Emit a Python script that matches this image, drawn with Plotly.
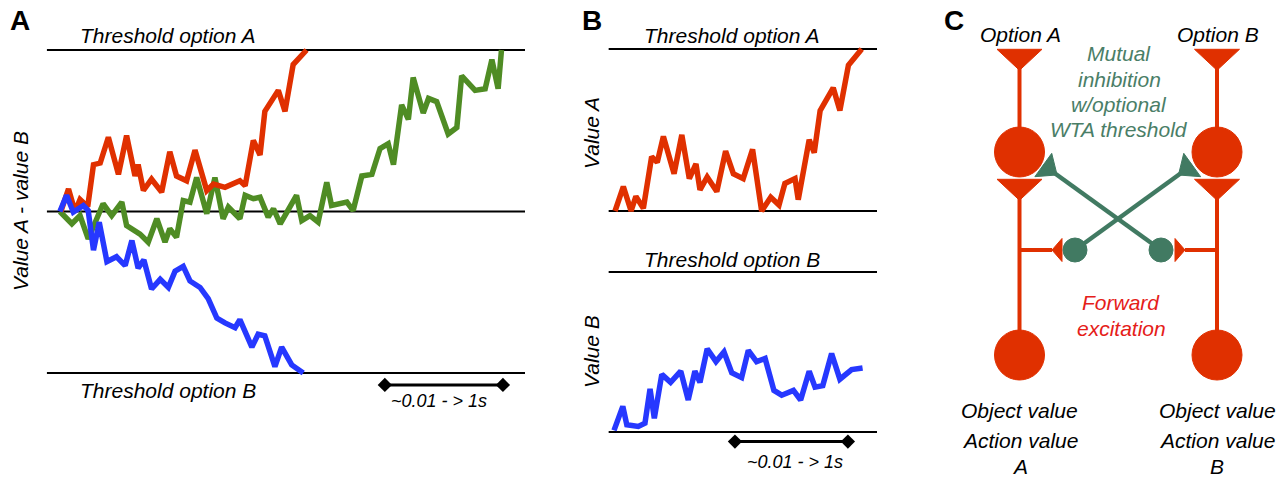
import math
import plotly.graph_objects as go

W, H = 1284, 479

# ---------------- data ----------------
# Panel A: value A - value B over time (time in arbitrary units 0..100)
A_RED_T = [3.3, 4.9, 6.25, 7.3, 8.9, 10.1, 11.5, 13.2, 15.3, 17.0, 18.75, 19.4, 20.5, 22.2, 24.3, 26.0,
           27.4, 29.5, 31.25, 33.7, 35.1, 37.5, 40.6, 41.7, 43.4, 44.8, 45.8, 48.6, 50.0, 51.7, 54.5]
A_RED_V = [0.0, 0.14, 0.0, 0.075, 0.03, 0.29, 0.30, 0.46, 0.23, 0.47, 0.22, 0.29, 0.13, 0.20, 0.12, 0.37,
           0.22, 0.19, 0.38, 0.13, 0.17, 0.15, 0.19, 0.16, 0.44, 0.35, 0.62, 0.75, 0.62, 0.91, 1.0]

A_GREEN_T = [3.1, 5.6, 7.3, 9.0, 12.1, 13.9, 16.0, 17.0, 19.8, 21.5, 23.3, 25.0, 26.0, 27.4, 28.8, 30.2,
             31.6, 33.7, 35.4, 37.1, 38.2, 40.6, 41.7, 43.4, 44.8, 46.5, 47.6, 49.0, 52.4, 53.5, 55.2,
             56.9, 58.7, 59.7, 62.9, 64.2, 66.0, 68.1, 69.8, 71.5, 72.6, 74.3, 75.7, 76.7, 78.8, 79.9,
             81.6, 84.0, 85.8, 86.8, 89.6, 91.7, 93.1, 94.4, 95.1]
A_GREEN_V = [0.0, -0.076, -0.025, -0.17, 0.048, -0.025, 0.058, -0.087, -0.14, -0.19, -0.045, -0.19, -0.107,
             -0.16, 0.068, 0.058, 0.21, -0.014, 0.21, -0.045, 0.027, -0.045, 0.10, 0.079, 0.089, -0.035,
             0.017, -0.076, 0.10, -0.056, -0.025, -0.066, 0.18, 0.037, 0.058, 0.006, 0.22, 0.23, 0.39,
             0.42, 0.29, 0.66, 0.57, 0.83, 0.61, 0.70, 0.68, 0.48, 0.52, 0.84, 0.75, 0.76, 0.94, 0.76, 1.0]

A_BLUE_T = [3.1, 4.5, 5.9, 8.0, 9.0, 10.1, 11.3, 12.9, 14.9, 16.7, 18.1, 19.4, 20.6, 22.2, 24.0, 25.7,
            27.1, 28.8, 30.2, 32.3, 34.0, 35.8, 37.5, 39.6, 40.6, 43.1, 44.4, 45.8, 47.9, 49.3, 51.4, 53.8]
A_BLUE_V = [0.0, 0.10, -0.004, 0.037, 0.006, -0.24, -0.066, -0.31, -0.28, -0.335, -0.18, -0.35, -0.30,
            -0.48, -0.42, -0.47, -0.37, -0.34, -0.43, -0.47, -0.54, -0.66, -0.69, -0.72, -0.67, -0.84,
            -0.76, -0.77, -0.96, -0.84, -0.95, -1.0]

# Panel B: separate value accumulators
B_RED_T = [1.9, 5.0, 7.9, 9.7, 12.5, 15.6, 17.7, 20.0, 24.0, 26.9, 29.7, 32.2, 33.7, 36.4, 40.0, 43.3,
           46.2, 49.9, 53.4, 56.8, 60.2, 63.3, 65.5, 69.3, 70.5, 74.6, 76.5, 78.7, 83.6, 86.1, 89.3, 94.3]
B_RED_V = [0.0, 0.15, 0.0, 0.09, 0.017, 0.335, 0.30, 0.46, 0.23, 0.47, 0.20, 0.29, 0.13, 0.21, 0.12, 0.37,
           0.23, 0.20, 0.38, 0.0, 0.085, 0.037, 0.17, 0.20, 0.07, 0.44, 0.36, 0.62, 0.76, 0.62, 0.90, 1.0]

B_BLUE_T = [1.5, 4.8, 6.3, 10.6, 13.1, 15.0, 16.6, 19.4, 22.7, 26.5, 29.3, 31.8, 33.7, 36.4, 39.7, 42.7,
            45.6, 49.3, 51.8, 54.9, 58.1, 61.4, 64.3, 68.7, 71.4, 74.6, 76.8, 79.7, 83.0, 86.1, 90.5, 94.6]
B_BLUE_V = [0.01, 0.16, 0.045, 0.035, 0.055, 0.27, 0.085, 0.36, 0.31, 0.38, 0.20, 0.38, 0.31, 0.52, 0.44,
            0.50, 0.37, 0.34, 0.51, 0.44, 0.46, 0.26, 0.23, 0.26, 0.20, 0.38, 0.28, 0.29, 0.49, 0.33,
            0.39, 0.40]

A_THRESHOLDS = [1.0, 0.0, -1.0]
A_SCALEBAR_T = [70.8, 95.4]
A_SCALEBAR_V = -1.074
B_SCALEBAR_T = [46.8, 89.1]
B_SCALEBAR_V = -0.06
SCALE_LABEL = "~0.01 - > 1s"

# Panel C: network layout (diagram units = pixels of the panel)
COL_X = [1019.5, 1217.0]
OUT_TRI_Y = 49.3
SOMA_Y = 152.0
MID_TRI_Y = 179.3
IN_SOMA_Y = 355.0
BRANCH_Y = 250.0
INH_X = [1075.0, 1161.0]
INH_TARGET = [(1192.2, 165.0), (1043.3, 165.0)]
SMALL_TRI_APEX_X = [1052.0, 1185.0]
SMALL_TRI_BASE_X = [1062.0, 1175.0]

# ---------------- styles ----------------
RED = "#e03000"
GREEN = "#4f8c24"
BLUE = "#2638ff"
NGREEN = "#417a62"
TGREEN = "#4a7e67"
TRED = "#e52019"
FONT = "Liberation Sans, Arial, sans-serif"


def ydom(top_px, bot_px):
    return [1 - bot_px / H, 1 - top_px / H]


fig = go.Figure()

# ---------- Panel A ----------
for v in A_THRESHOLDS:
    fig.add_trace(go.Scatter(x=[0.4, 100], y=[v, v], mode="lines", line=dict(color="black", width=2),
                             xaxis="x", yaxis="y", hoverinfo="skip"))
for t, v, c in [(A_GREEN_T, A_GREEN_V, GREEN), (A_RED_T, A_RED_V, RED), (A_BLUE_T, A_BLUE_V, BLUE)]:
    fig.add_trace(go.Scatter(x=t, y=v, mode="lines", line=dict(color=c, width=5.5),
                             xaxis="x", yaxis="y"))
fig.add_trace(go.Scatter(x=A_SCALEBAR_T, y=[A_SCALEBAR_V] * 2, mode="lines+markers",
                         line=dict(color="black", width=3),
                         marker=dict(symbol="diamond", size=11, color="black"),
                         xaxis="x", yaxis="y"))

# ---------- Panel B ----------
for v in [1.0, 0.0]:
    fig.add_trace(go.Scatter(x=[-0.5, 100], y=[v, v], mode="lines", line=dict(color="black", width=2),
                             xaxis="x2", yaxis="y2"))
    fig.add_trace(go.Scatter(x=[-0.5, 100], y=[v, v], mode="lines", line=dict(color="black", width=2),
                             xaxis="x2", yaxis="y3"))
fig.add_trace(go.Scatter(x=B_RED_T, y=B_RED_V, mode="lines", line=dict(color=RED, width=5.5),
                         xaxis="x2", yaxis="y2"))
fig.add_trace(go.Scatter(x=B_BLUE_T, y=B_BLUE_V, mode="lines", line=dict(color=BLUE, width=5.5),
                         xaxis="x2", yaxis="y3"))
fig.add_trace(go.Scatter(x=B_SCALEBAR_T, y=[B_SCALEBAR_V] * 2, mode="lines+markers",
                         line=dict(color="black", width=3),
                         marker=dict(symbol="diamond", size=11, color="black"),
                         xaxis="x2", yaxis="y3"))

# ---------- Panel C (diagram) ----------
shapes = []
ax = dict(xref="x4", yref="y4")


def tri(p1, p2, p3, color):
    path = f"M{p1[0]},{p1[1]} L{p2[0]},{p2[1]} L{p3[0]},{p3[1]} Z"
    return dict(type="path", path=path, fillcolor=color, line=dict(color=color, width=1), **ax)


TRI_HW, TRI_H, SOMA_R = 22.5, 21.0, 25.0
for i, cx in enumerate(COL_X):
    shapes.append(dict(type="line", x0=cx, x1=cx, y0=OUT_TRI_Y + 5, y1=SOMA_Y,
                       line=dict(color=RED, width=4), **ax))
    shapes.append(dict(type="line", x0=cx, x1=cx, y0=MID_TRI_Y + 5, y1=IN_SOMA_Y,
                       line=dict(color=RED, width=4), **ax))
    shapes.append(dict(type="line", x0=cx, x1=SMALL_TRI_APEX_X[i], y0=BRANCH_Y, y1=BRANCH_Y,
                       line=dict(color=RED, width=4), **ax))
for i, cx in enumerate(COL_X):
    shapes.append(tri((cx - TRI_HW, OUT_TRI_Y), (cx + TRI_HW, OUT_TRI_Y), (cx, OUT_TRI_Y + TRI_H), RED))
    shapes.append(tri((cx - TRI_HW, MID_TRI_Y), (cx + TRI_HW, MID_TRI_Y), (cx, MID_TRI_Y + TRI_H), RED))
    for sy in [SOMA_Y, IN_SOMA_Y]:
        shapes.append(dict(type="circle", x0=cx - SOMA_R, x1=cx + SOMA_R, y0=sy - SOMA_R, y1=sy + SOMA_R,
                           fillcolor=RED, line=dict(color=RED, width=1), **ax))
    bx, apx = SMALL_TRI_BASE_X[i], SMALL_TRI_APEX_X[i]
    shapes.append(tri((bx, BRANCH_Y - 11.5), (bx, BRANCH_Y + 11.5), (apx, BRANCH_Y), RED))

for i, ix in enumerate(INH_X):
    tx, ty = INH_TARGET[i]
    shapes.append(dict(type="line", x0=ix, y0=BRANCH_Y, x1=tx, y1=ty,
                       line=dict(color=NGREEN, width=4.5), **ax))
    dx, dy = tx - ix, ty - BRANCH_Y
    L = math.hypot(dx, dy)
    ux, uy = dx / L, dy / L
    px_, py_ = -uy, ux
    hb = 14.4
    b1 = (tx + px_ * hb, ty + py_ * hb)
    b2 = (tx - px_ * hb, ty - py_ * hb)
    apex = (tx - ux * 17, ty - uy * 17)
    shapes.append(tri(b1, b2, apex, NGREEN))
    shapes.append(dict(type="circle", x0=ix - 12, x1=ix + 12, y0=BRANCH_Y - 12, y1=BRANCH_Y + 12,
                       fillcolor=NGREEN, line=dict(color=NGREEN, width=1), **ax))

# ---------- annotations ----------
ann = []


def text(s, x, y, size=21, color="black", italic=True, bold=False, angle=0, yanchor="middle"):
    ann.append(dict(text=s, x=x / W, y=1 - y / H, xref="paper", yref="paper", showarrow=False,
                    xanchor="center", yanchor=yanchor, textangle=angle, borderpad=0,
                    font=dict(family=FONT, size=size, color=color,
                              style="italic" if italic else "normal",
                              weight="bold" if bold else "normal")))


text("A", 20, 21, size=28, italic=False, bold=True)
text("B", 592, 21, size=28, italic=False, bold=True)
text("C", 954, 21, size=28, italic=False, bold=True)

text("Threshold option A", 168, 36)
text("Threshold option B", 168, 390)
text("Value A - value B", 20, 211, angle=-90)
text(SCALE_LABEL, 439, 401, size=18)

text("Threshold option A", 732, 36)
text("Threshold option B", 732, 259)
text("Value A", 591, 133, angle=-90)
text("Value B", 591, 352, angle=-90)
text(SCALE_LABEL, 795, 462, size=18)

text("Option A", 1020, 35)
text("Option B", 1218, 35)
for s, y in zip(["Mutual", "inhibition", "w/optional", "WTA threshold"], [54, 79, 104, 129]):
    text(s, 1119, y, color=TGREEN)
for s, y in zip(["Forward", "excitation"], [302, 328]):
    text(s, 1121, y, color=TRED)
for cx, lab in zip(COL_X, ["A", "B"]):
    for s, y in zip(["Object value", "Action value"], [410, 440]):
        text(s, cx, y)
    text(lab, cx, 478.5, yanchor="bottom")

hidden = dict(visible=False, fixedrange=True)
fig.update_layout(
    width=W, height=H, margin=dict(l=0, r=0, t=0, b=0),
    paper_bgcolor="white", plot_bgcolor="white", showlegend=False,
    xaxis=dict(domain=[45 / W, 525 / W], range=[0, 100], **hidden),
    yaxis=dict(domain=ydom(30, 400), range=[(211.5 - 400) / 161.5, (211.5 - 30) / 161.5], anchor="x", **hidden),
    xaxis2=dict(domain=[607 / W, 877 / W], range=[-1.12, 100], anchor="y2", **hidden),
    yaxis2=dict(domain=ydom(40, 221), range=[(211 - 221) / 162, (211 - 40) / 162], anchor="x2", **hidden),
    yaxis3=dict(domain=ydom(262, 450), range=[(432 - 450) / 160, (432 - 262) / 160], anchor="x2", **hidden),
    xaxis4=dict(domain=[940 / W, 1.0], range=[940, 1284], anchor="y4", **hidden),
    yaxis4=dict(domain=[0, 1], range=[479, 0], anchor="x4", **hidden),
    shapes=shapes, annotations=ann,
)
fig.add_trace(go.Scatter(x=[None], y=[None], xaxis="x4", yaxis="y4"))

fig.write_html("out.html", config={"displayModeBar": False},
               post_script="document.body.style.margin='0';document.body.style.overflow='hidden';")
